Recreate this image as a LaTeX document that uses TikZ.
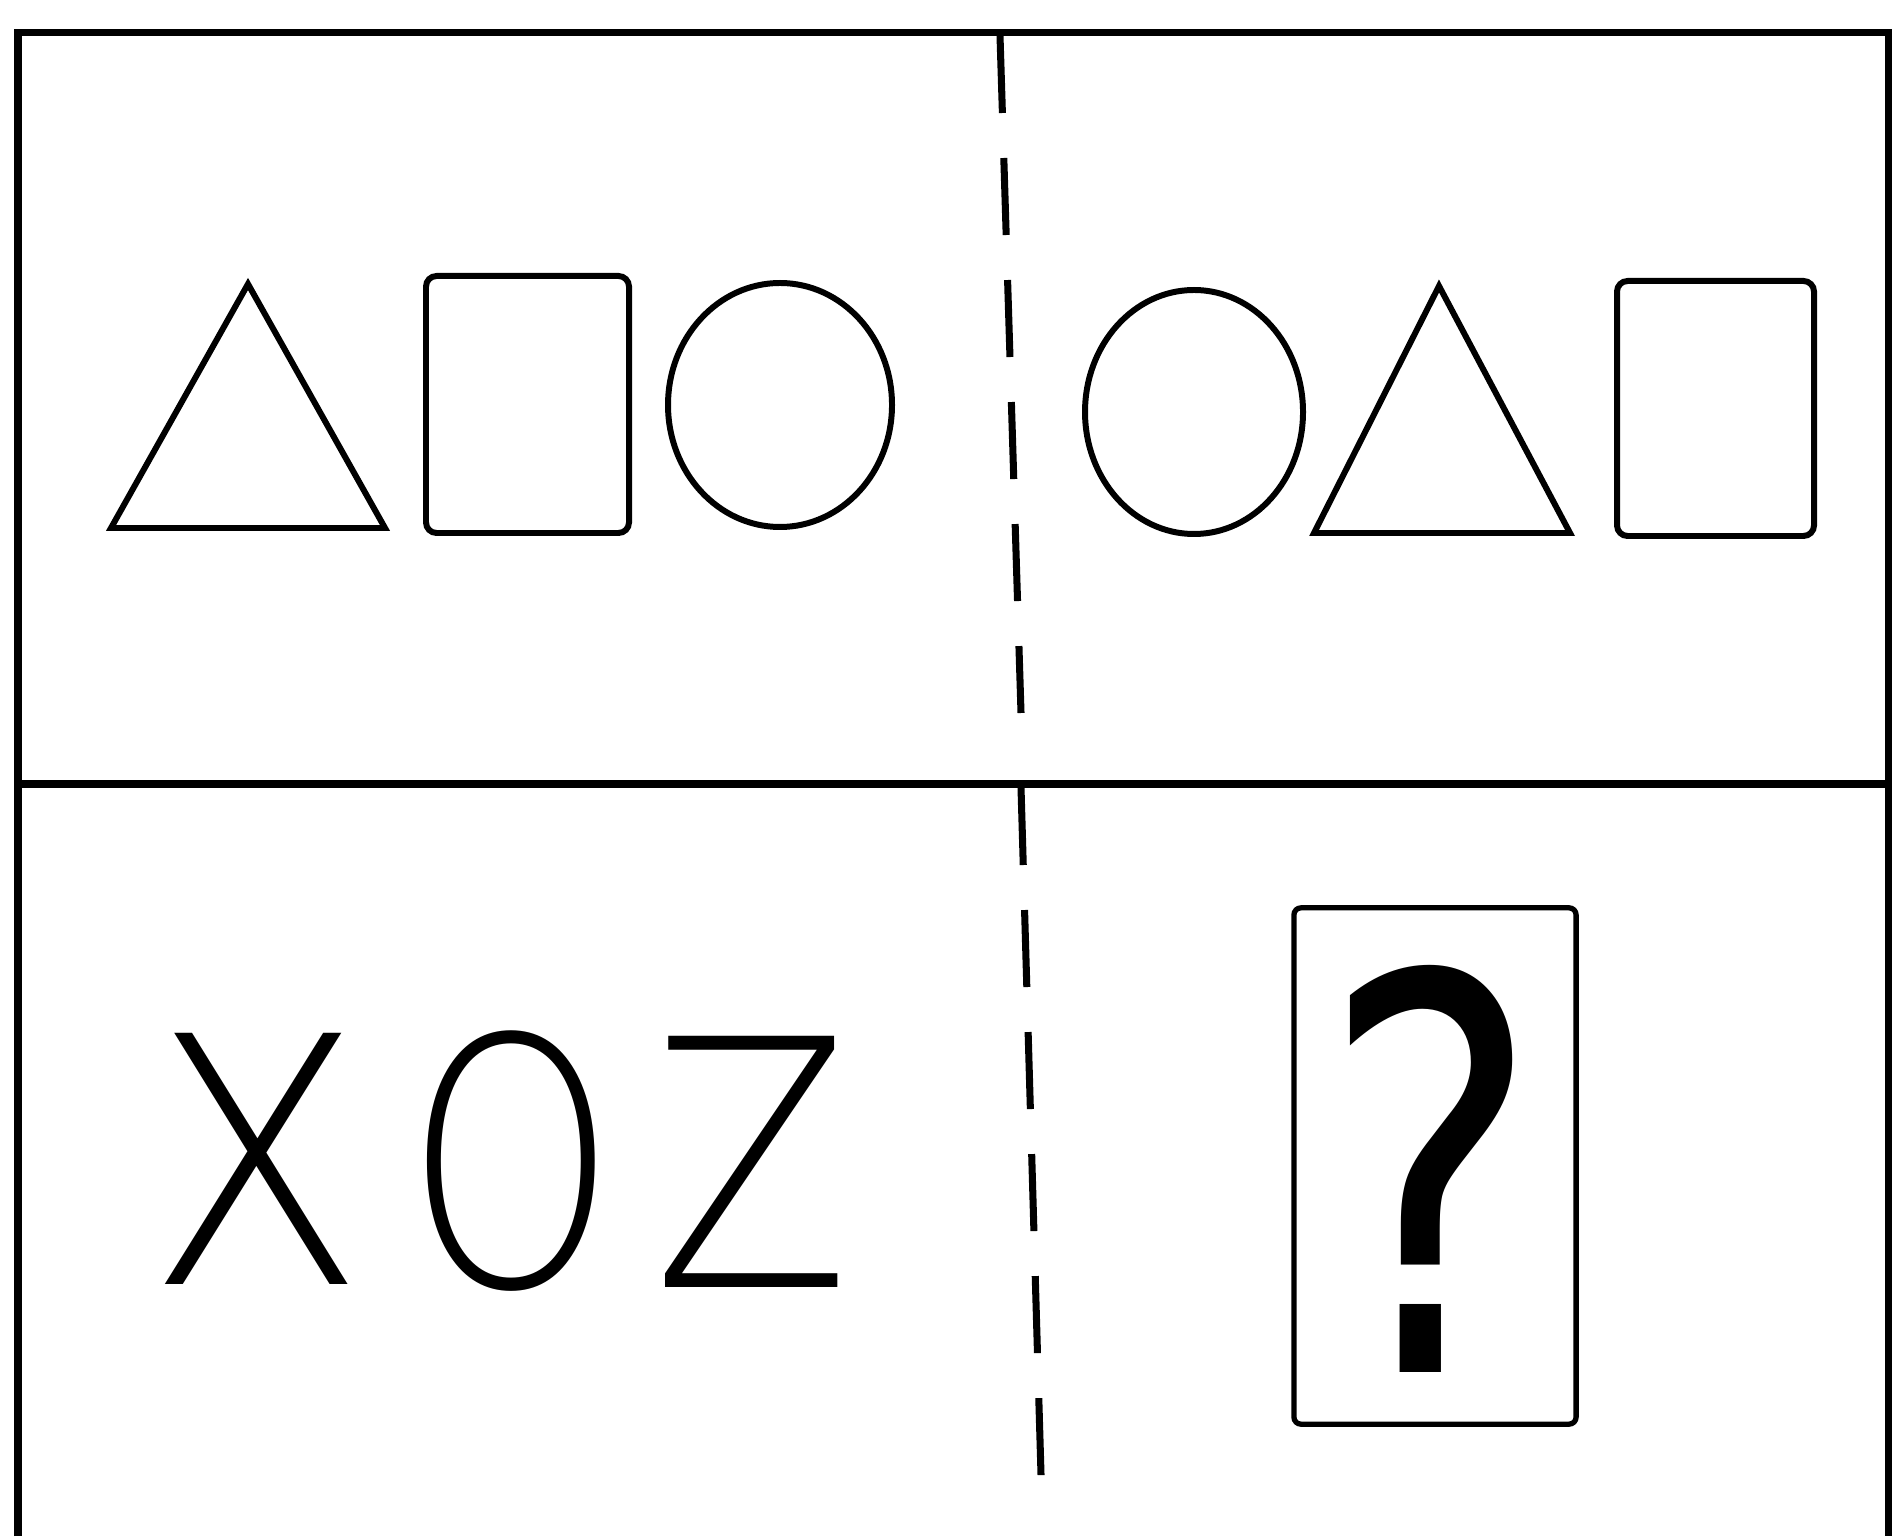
\documentclass[tikz,border=0pt]{standalone}
\usepackage{fontspec}
\usepackage{tikz}
\usetikzlibrary{positioning}
\newfontfamily\thinletters{DejaVu Sans ExtraLight}
\newfontfamily\plainmark{DejaVu Sans}
\newcommand{\puzzleletter}[4]{%
  \node[letter, anchor=base] (#1) at (#2) {\scalebox{#3}[1]{#4}};}

\begin{document}
\begin{tikzpicture}[x=0.01cm, y=0.01cm,
    frameline/.style={line width=2pt},
    figline/.style={line width=1.7pt},
    cutline/.style={line width=2pt, dash pattern=on 0.77cm off 0.45cm},
    letter/.style={inner sep=0pt, font=\thinletters\fontsize{98}{100}\selectfont}]
  \useasboundingbox (0,0) rectangle (1895,1536);
  \draw[frameline] (18,0) -- (18,1503) -- (1888,1503) -- (1888,0);
  \draw[frameline] (18,752) -- (1888,752);
  \draw[cutline] (1000,1500) -- (1021,823);
  \draw[cutline] (1021,748) -- (1042,27);
  \draw[figline] (111,1008) -- (248,1252) -- (385,1008) -- cycle;
  \draw[figline, rounded corners=3pt] (426,1003) rectangle (629,1260);
  \draw[figline] (780,1131) ellipse [x radius=112, y radius=122];
  \draw[figline] (1194,1124) ellipse [x radius=109, y radius=122];
  \draw[figline] (1314,1003) -- (1439,1250) -- (1570,1003) -- cycle;
  \draw[figline, rounded corners=3pt] (1617,1000) rectangle (1814,1255);
  \puzzleletter{xletter}{256,252}{0.93}{X}
  \puzzleletter{oletter}{511,250}{0.78}{O}
  \puzzleletter{zletter}{752,249}{0.84}{Z}
  \node[draw, line width=1.5pt, rounded corners=2pt, minimum width=2.82cm, minimum height=5.16cm] (qbox) at (1435,370) {};
  \node[inner sep=0pt, anchor=base, font=\plainmark\fontsize{156}{160}\selectfont] (qmark) at (1431,164) {\scalebox{0.76}[1]{?}};
\end{tikzpicture}
\end{document}
